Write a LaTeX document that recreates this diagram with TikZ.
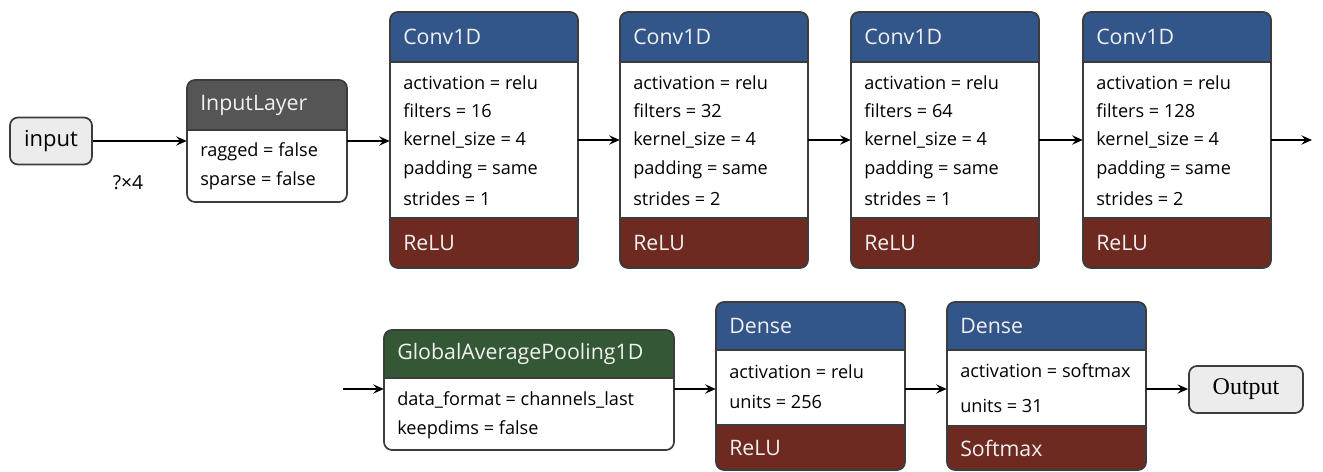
\documentclass[tikz,border=0pt]{standalone}
\usepackage{fontspec}
\setmainfont{Open Sans}
\newfontfamily\outfont{Liberation Serif}
\usetikzlibrary{arrows.meta,fit}
\definecolor{hblue}{RGB}{51,86,138}
\definecolor{hred}{RGB}{110,41,33}
\definecolor{hgreen}{RGB}{52,87,54}
\definecolor{hgray}{RGB}{85,85,85}
\definecolor{bord}{RGB}{60,60,60}
\definecolor{lightfill}{RGB}{236,236,236}
\definecolor{htext}{RGB}{240,240,240}
\tikzset{
  x=0.75pt, y=-0.75pt,
  frame/.style={draw=bord, line width=1.3pt, rounded corners=6pt},
  sep/.style={draw=bord, line width=1.1pt},
  title/.style={anchor=west, inner sep=0pt, text=htext, font=\fontsize{16}{18}\selectfont},
  attr/.style={anchor=west, inner sep=0pt, text=black, font=\fontsize{13.6}{15}\selectfont},
  term/.style={draw=bord, line width=1.3pt, rounded corners=6pt, fill=lightfill, inner sep=0pt},
  conn/.style={line width=1.1pt, -{Stealth[length=8pt,width=7pt,inset=3pt]}},
}
% name, x1, y1, x2, y2, header bottom, colour, title
\newcommand\layerbox[8]{%
  \node[fit={(#2,#3) (#4,#5)}, inner sep=0pt] (#1) {};
  \begin{scope}
    \clip[rounded corners=6pt] (#2,#3) rectangle (#4,#5);
    \fill[white] (#2,#3) rectangle (#4,#5);
    \fill[#7] (#2,#3) rectangle (#4,#6);
  \end{scope}
  \draw[sep] (#2,#6) -- (#4,#6);
  \node[title] (#1-t) at (#2+13,{(#3+#6)/2}) {#8};
}
% name, x1, x2, y2, footer top, text
\newcommand\layerfoot[6]{%
  \begin{scope}
    \clip[rounded corners=6pt] (#2,0) rectangle (#3,#4);
    \fill[hred] (#2,#5) rectangle (#3,#4);
  \end{scope}
  \draw[sep] (#2,#5) -- (#3,#5);
  \node[title] (#1-f) at (#2+13,{(#5+#4)/2}) {#6};
}
\begin{document}
\begin{tikzpicture}
\useasboundingbox (0,0) rectangle (1323,471);
\fill[white] (0,0) rectangle (1323,471);

% input
\node[term, minimum width=82*0.75pt, minimum height=47*0.75pt, font=\fontsize{16.5}{18}\selectfont] (in) at (51,141) {input};

% InputLayer
\layerbox{il}{187}{80}{347}{202}{130}{hgray}{InputLayer}
\node[attr] (il-1) at (200,152) {ragged = false};
\node[attr] (il-2) at (200,181) {sparse = false};
\draw[frame] (187,80) rectangle (347,202);

% Conv layers
\foreach \n/\xa/\f/\s in {c1/390/16/1, c2/620/32/2, c3/851/64/1, c4/1083/128/2}{
  \layerbox{\n}{\xa}{12}{\xa+188}{268}{62}{hblue}{Conv1D}
  \node[attr] (\n-1) at (\xa+13,83) {activation = relu};
  \node[attr] (\n-2) at (\xa+13,111) {filters = \f};
  \node[attr] (\n-3) at (\xa+13,140) {kernel\_size = 4};
  \node[attr] (\n-4) at (\xa+13,170) {padding = same};
  \node[attr] (\n-5) at (\xa+13,199) {strides = \s};
  \layerfoot{\n}{\xa}{\xa+188}{268}{218}{ReLU}
  \draw[frame] (\xa,12) rectangle (\xa+188,268);
}

% GlobalAveragePooling1D
\layerbox{gap}{384}{330}{674}{450}{378}{hgreen}{GlobalAveragePooling1D}
\node[attr] (gap-1) at (397,400) {data\_format = channels\_last};
\node[attr] (gap-2) at (397,430) {keepdims = false};
\draw[frame] (384,330) rectangle (674,450);

% Dense 1
\layerbox{d1}{716}{302}{905}{470}{350}{hblue}{Dense}
\node[attr] (d1-1) at (729,372) {activation = relu};
\node[attr] (d1-2) at (729,402) {units = 256};
\layerfoot{d1}{716}{905}{470}{425}{ReLU}
\draw[frame] (716,302) rectangle (905,470);

% Dense 2
\layerbox{d2}{947}{302}{1146}{470}{350}{hblue}{Dense}
\node[attr] (d2-1) at (960,371) {activation = softmax};
\node[attr] (d2-2) at (960,406) {units = 31};
\layerfoot{d2}{947}{1146}{470}{426}{Softmax}
\draw[frame] (947,302) rectangle (1146,470);

% Output
\node[term, minimum width=114*0.75pt, minimum height=47*0.75pt, font=\outfont\fontsize{18}{20}\selectfont] (out) at (1246,389.5) {Output};

% connectors
\coordinate (end1) at (1312,140);
\coordinate (start2) at (343,389);
\node[font=\fontsize{14.5}{16}\selectfont, inner sep=0pt] (shape) at (128,183) {?×4};
\draw[conn] (in.east) -- (il.west);
\draw[conn] (il.east) -- (il.east -| c1.west);
\draw[conn] (c1.east) -- (c2.west);
\draw[conn] (c2.east) -- (c3.west);
\draw[conn] (c3.east) -- (c4.west);
\draw[conn] (c4.east) -- (c4.east -| end1);
\draw[conn] (start2) -- (start2 -| gap.west);
\draw[conn] (gap.east |- start2) -- (start2 -| d1.west);
\draw[conn] (d1.east |- start2) -- (start2 -| d2.west);
\draw[conn] (d2.east |- start2) -- (out.west |- start2);
\end{tikzpicture}
\end{document}
